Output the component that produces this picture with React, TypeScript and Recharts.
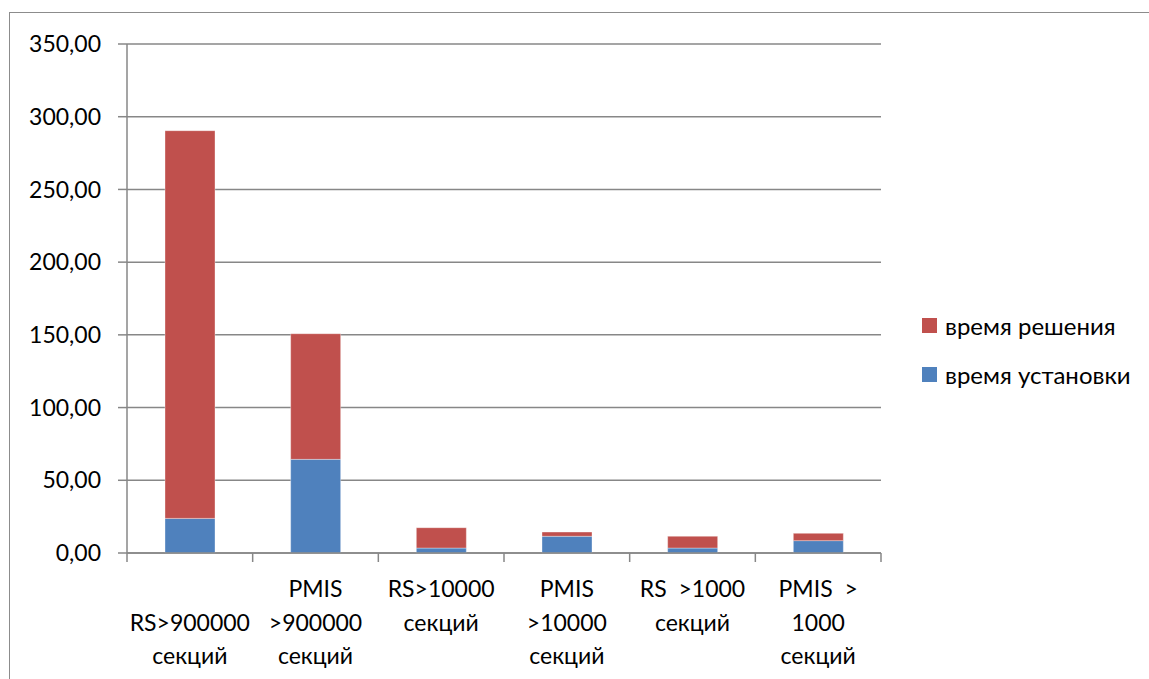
import { Bar, BarChart, CartesianGrid, XAxis, YAxis } from 'recharts';

// Категории (строки подписи разделены \n, пустая строка — отступ сверху)
const categories = [
  '\nRS>900000\nсекций',
  'PMIS\n>900000\nсекций',
  'RS>10000\nсекций',
  'PMIS\n>10000\nсекций',
  'RS  >1000\nсекций',
  'PMIS  >\n1000\nсекций',
];
const setupTime = [23.8, 64.4, 3.4, 11.5, 3.4, 8.5];
const solveTime = [266.6, 86.4, 14.0, 2.9, 8.1, 5.0];
const yTicks = [0, 50, 100, 150, 200, 250, 300, 350];

const data = categories.map((name, i) => ({ name, setup: setupTime[i], solve: solveTime[i] }));

const FONT = 'Lato, "Open Sans", sans-serif';
const GRID = '#878787';
const RED = '#C0504D';
const BLUE = '#4F81BD';

const W = 1149;
const H = 679;
const PLOT_LEFT = 127;
const PLOT_RIGHT = 881;
const BAND = (PLOT_RIGHT - PLOT_LEFT) / categories.length;

function CategoryTick(props: any) {
  const { x, y, payload, index } = props;
  const lines = String(payload.value).split('\n');
  return (
    <g>
      <line x1={x - BAND / 2} x2={x - BAND / 2} y1={y} y2={y + 9} stroke={GRID} strokeWidth={1.5} />
      {index === categories.length - 1 && (
        <line x1={x + BAND / 2} x2={x + BAND / 2} y1={y} y2={y + 9} stroke={GRID} strokeWidth={1.5} />
      )}
      {lines.map((ln, i) => (
        <text
          key={i}
          x={x}
          y={y + 35 + i * 33.5}
          textAnchor="middle"
          dominantBaseline="central"
          fontFamily={FONT}
          fontSize={23}
          fill="#000"
          style={{ whiteSpace: 'pre' }}
        >
          {ln}
        </text>
      ))}
    </g>
  );
}

const legendItems = [
  { label: 'время решения', color: RED },
  { label: 'время установки', color: BLUE },
];

export default function App() {
  return (
    <div style={{ position: 'relative', width: W, height: H, overflow: 'hidden', background: '#fff' }}>
      <style>{'body{margin:0}'}</style>
      <div
        style={{
          position: 'absolute',
          left: 9,
          top: 12,
          width: W + 40,
          height: H + 40,
          border: '1.5px solid #8c8c8c',
          boxSizing: 'border-box',
        }}
      />
      <div style={{ position: 'absolute', left: 0, top: 0 }}>
        <BarChart width={W} height={H} data={data} margin={{ top: 44, right: W - PLOT_RIGHT, bottom: 0, left: 0 }} barSize={50}>
          <CartesianGrid vertical={false} stroke={GRID} strokeWidth={1.5} />
          <XAxis
            dataKey="name"
            interval={0}
            height={H - 553}
            tickLine={false}
            tickSize={0}
            tickMargin={0}
            axisLine={{ stroke: GRID, strokeWidth: 1.5 }}
            tick={<CategoryTick />}
          />
          <YAxis
            width={PLOT_LEFT}
            domain={[0, 350]}
            ticks={yTicks}
            interval={0}
            tickSize={9}
            tickMargin={17}
            tickLine={{ stroke: GRID, strokeWidth: 1.5 }}
            axisLine={{ stroke: GRID, strokeWidth: 1.5 }}
            tick={{ fontFamily: FONT, fontSize: 23, fill: '#000' }}
            tickFormatter={(v: number) => v.toFixed(2).replace('.', ',')}
          />
          <Bar dataKey="setup" name="время установки" stackId="t" fill={BLUE} stroke="#fff" strokeOpacity={0.35} isAnimationActive={false} />
          <Bar dataKey="solve" name="время решения" stackId="t" fill={RED} stroke="#fff" strokeOpacity={0.35} isAnimationActive={false} />
        </BarChart>
      </div>
      <div style={{ position: 'absolute', left: 922, top: 301, fontFamily: FONT, fontSize: 24, color: '#000' }}>
        {legendItems.map((it) => (
          <div key={it.label} style={{ display: 'flex', alignItems: 'center', height: 49, whiteSpace: 'nowrap' }}>
            <span style={{ width: 15, height: 15, background: it.color, marginRight: 8, display: 'inline-block' }} />
            {it.label}
          </div>
        ))}
      </div>
    </div>
  );
}
